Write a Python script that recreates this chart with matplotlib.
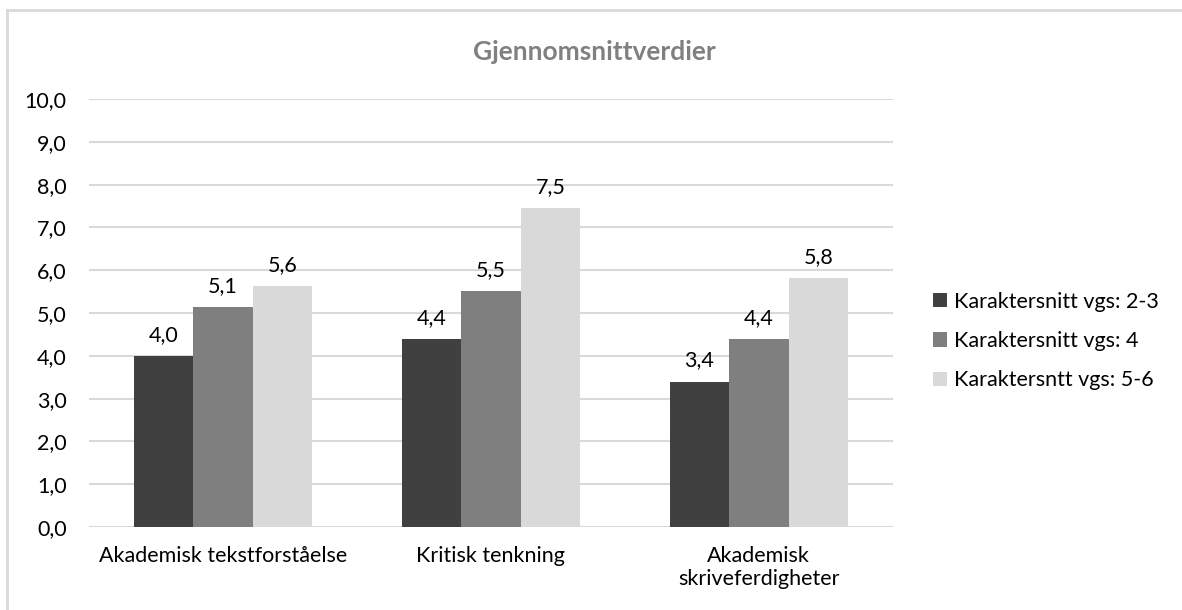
import numpy as np
import matplotlib.pyplot as plt
from matplotlib.lines import Line2D

# Data
kategorier = ['Akademisk tekstforståelse', 'Kritisk tenkning', 'Akademisk\nskriveferdigheter']
serier = ['Karaktersnitt vgs: 2-3', 'Karaktersnitt vgs: 4', 'Karaktersntt vgs: 5-6']
vgs_2_3 = [4.0, 4.4, 3.4]
vgs_4 = [5.14, 5.52, 4.40]
vgs_5_6 = [5.63, 7.46, 5.81]
farger = ['#404040', '#7f7f7f', '#d9d9d9']

plt.rcParams['font.family'] = ['Lato', 'DejaVu Sans']
fs = 15.5

fig = plt.figure(figsize=(11.82, 6.10), dpi=100)
ax = fig.add_axes([0.0753, 0.136, 0.680, 0.7016])

x = np.arange(len(kategorier))
bredde = 0.222
for i, (verdier, navn, farge) in enumerate(zip([vgs_2_3, vgs_4, vgs_5_6], serier, farger)):
    pos = x + (i - 1) * bredde
    ax.bar(pos, verdier, width=bredde, color=farge, label=navn, zorder=3)
    for xp, v in zip(pos, verdier):
        ax.annotate(f'{v:.1f}'.replace('.', ','), (xp, v), xytext=(0, 8),
                    textcoords='offset points', ha='center', va='bottom',
                    fontsize=fs, color='#000000')

ax.set_xlim(-0.5, 2.5)
ax.set_ylim(0, 10)
ax.set_yticks(np.arange(0, 11, 1))
ax.set_yticklabels([f'{v:.1f}'.replace('.', ',') for v in np.arange(0, 11, 1)])
ax.set_xticks(x)
ax.set_xticklabels(kategorier, linespacing=1.15)
ax.tick_params(axis='both', length=0, labelsize=fs, colors='#000000')
ax.tick_params(axis='y', pad=16)
ax.tick_params(axis='x', pad=14)
ax.grid(axis='y', color='#d9d9d9', linewidth=1.5, zorder=0)
ax.set_axisbelow(True)
for s in ax.spines.values():
    s.set_visible(False)

fig.text(0.503, 0.915, 'Gjennomsnittverdier', ha='center', va='center',
         fontsize=19, fontweight='bold', color='#808080')

fig.legend(loc='center left', bbox_to_anchor=(0.789, 0.441), frameon=False,
           fontsize=fs, handlelength=0.65, handleheight=0.65, handletextpad=0.35,
           labelspacing=0.9, borderpad=0, borderaxespad=0)

# ramme rundt diagrammet
fig.add_artist(Line2D([7 / 1182, 7 / 1182], [0, 1 - 10 / 610], color='#d9d9d9', lw=2,
                      transform=fig.transFigure))
fig.add_artist(Line2D([7 / 1182, 1], [1 - 10 / 610, 1 - 10 / 610], color='#d9d9d9', lw=2,
                      transform=fig.transFigure))

fig.savefig('out.png', dpi=100)
